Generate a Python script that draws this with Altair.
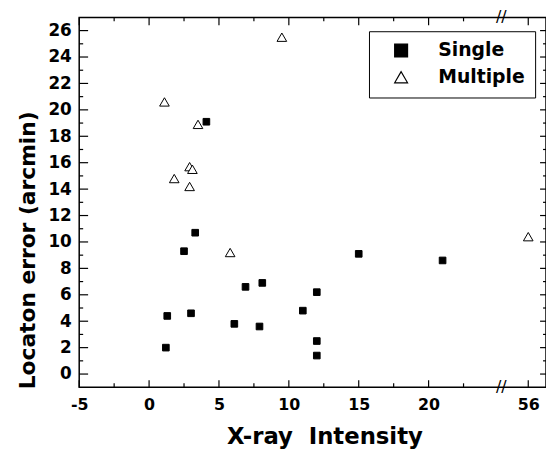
import altair as alt
import pandas as pd

# ---- data ----
single_x = [4.1, 3.3, 2.5, 6.9, 8.1, 1.3, 3.0, 11.0, 6.1, 7.9, 1.2, 15.0, 21.0, 12.0, 12.0, 12.0]
single_y = [19.1, 10.7, 9.3, 6.6, 6.9, 4.4, 4.6, 4.8, 3.8, 3.6, 2.0, 9.1, 8.6, 6.2, 2.5, 1.4]
multi_x = [9.5, 1.1, 3.5, 2.9, 3.1, 1.8, 2.9, 5.8, 56]
multi_y = [25.5, 20.6, 18.9, 15.7, 15.5, 14.8, 14.2, 9.2, 10.4]

x_major = [-5, 0, 5, 10, 15, 20, 56]
x_minor = [-2.5, 2.5, 7.5, 12.5, 17.5, 22.5]
y_major = list(range(0, 27, 2))
y_minor = list(range(1, 27, 2))

categories = ["Single", "Multiple"]

# broken x axis: values beyond the break are shifted left
BREAK_SHIFT = 28.87
BREAK_POS = 25.2
break_expr = f"datum.x > 40 ? datum.x - {BREAK_SHIFT} : datum.x"

W, H = 472, 374
FONT = "DejaVu Sans"

df_single = pd.DataFrame({"x": single_x, "y": single_y, "type": "Single"})
df_multi = pd.DataFrame({"x": multi_x, "y": multi_y, "type": "Multiple"})

xscale = alt.Scale(domain=[-5, 28.4], nice=False, zero=False)
yscale = alt.Scale(domain=[-1, 27], nice=False, zero=False)

tick_vals = [v if v < 40 else v - BREAK_SHIFT for v in x_major]

xaxis = alt.Axis(
    values=tick_vals,
    labelExpr="datum.value > 26 ? '56' : '' + datum.value",
    ticks=False, tickSize=0, domain=False, grid=False,
    labelFont=FONT, labelFontWeight="bold", labelFontSize=16, labelColor="black",
    labelPadding=9, labelFlush=False, labelOverlap=False,
    title="X-ray\u00a0 Intensity", titleFont=FONT, titleFontWeight="bold",
    titleFontSize=23, titleColor="black", titleX=248, titleY=57,
    titleAlign="center", titleBaseline="alphabetic",
)
yaxis = alt.Axis(
    values=y_major,
    ticks=False, tickSize=0, domain=False, grid=False,
    labelFont=FONT, labelFontWeight="bold", labelFontSize=17, labelColor="black",
    labelPadding=8, labelFlush=False, labelOverlap=False,
    title="Locaton error (arcmin)", titleFont=FONT, titleFontWeight="bold",
    titleFontSize=22, titleColor="black", titleX=-45, titleY=235,
    titleAlign="center", titleBaseline="alphabetic", titleAngle=270,
)

legend = alt.Legend(
    title=None, orient="none", legendX=293, legendY=14,
    padding=10, strokeColor="black", fillColor="white",
    labelFont=FONT, labelFontWeight="bold", labelFontSize=19, labelColor="black",
    labelBaseline="middle", labelExpr="datum.label + '\u00a0'",
    symbolSize=170, symbolOffset=13, labelOffset=28, rowPadding=7,
    symbolStrokeWidth=1.2,
)

shape_enc = alt.Shape("type:N", scale=alt.Scale(domain=categories, range=["square", "triangle-up"]), legend=legend)
fill_enc = alt.Fill("type:N", scale=alt.Scale(domain=categories, range=["black", "white"]), legend=legend)
stroke_enc = alt.Stroke("type:N", scale=alt.Scale(domain=categories, range=["black", "black"]), legend=legend)


def point_layer(d, size):
    return alt.Chart(d).transform_calculate(xp=break_expr).mark_point(
        filled=True, strokeWidth=1, opacity=1, size=size
    ).encode(
        x=alt.X("xp:Q", scale=xscale, axis=xaxis),
        y=alt.Y("y:Q", scale=yscale, axis=yaxis),
        shape=shape_enc, fill=fill_enc, stroke=stroke_enc,
    )


def xticks(vals, top, length):
    d = pd.DataFrame({"x": vals})
    y0 = 0 if top else H
    y1 = length if top else H - length
    return alt.Chart(d).transform_calculate(xp=break_expr).mark_rule(
        color="black", strokeWidth=1.2
    ).encode(
        x=alt.X("xp:Q", scale=xscale, axis=xaxis),
        y=alt.value(y0), y2=alt.value(y1),
    )


def yticks(vals, right, length):
    d = pd.DataFrame({"y": vals})
    x0 = W if right else 0
    x1 = W - length if right else length
    return alt.Chart(d).mark_rule(color="black", strokeWidth=1.2).encode(
        y=alt.Y("y:Q", scale=yscale, axis=yaxis),
        x=alt.value(x0), x2=alt.value(x1),
    )


breaks = alt.Chart(pd.DataFrame({"bx": [BREAK_POS, BREAK_POS], "by": [-1, 27]})).mark_text(
    text="//", fontSize=16, font=FONT, color="black", align="center", baseline="middle"
).encode(
    x=alt.X("bx:Q", scale=xscale, axis=xaxis),
    y=alt.Y("by:Q", scale=yscale, axis=yaxis),
)

layers = [
    point_layer(df_single, 45),
    point_layer(df_multi, 95),
    xticks(x_major, False, 7), xticks(x_minor, False, 4),
    xticks(x_major, True, 8), xticks(x_minor, True, 4),
    yticks(y_major, False, 9), yticks(y_minor, False, 4),
    yticks(y_major, True, 6), yticks(y_minor, True, 3),
    breaks,
]

chart = alt.layer(*layers).properties(
    width=W, height=H,
    autosize=alt.AutoSizeParams(type="none"),
    padding={"left": 72, "top": 7, "right": 0, "bottom": 66},
    background="white",
).configure_view(stroke="black", strokeWidth=1.5)

chart.save("out.html", embed_options={"renderer": "svg", "actions": False})
